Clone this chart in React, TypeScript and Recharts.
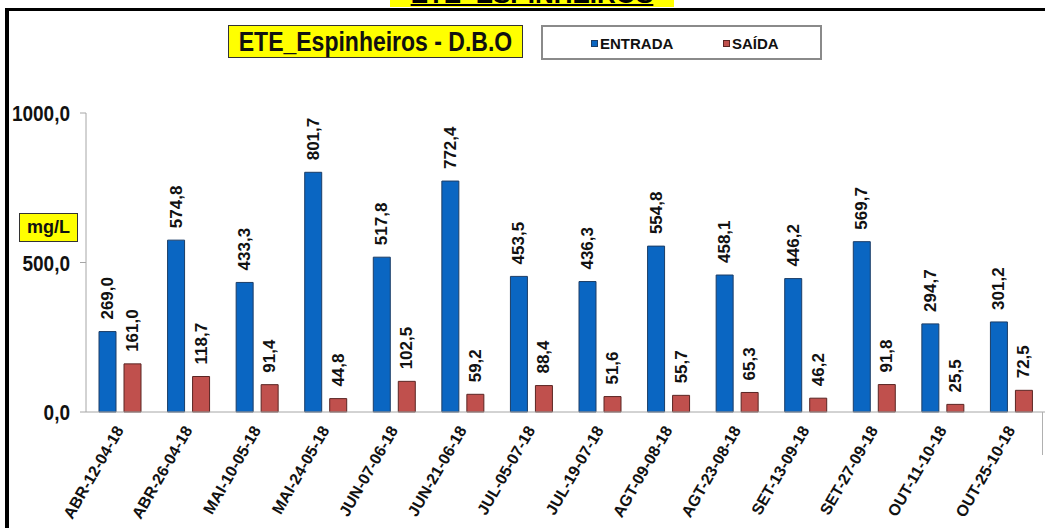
import React from "react";
import { BarChart, Bar, XAxis, YAxis, LabelList } from "recharts";

const categories = [
  "ABR-12-04-18", "ABR-26-04-18", "MAI-10-05-18", "MAI-24-05-18", "JUN-07-06-18",
  "JUN-21-06-18", "JUL-05-07-18", "JUL-19-07-18", "AGT-09-08-18", "AGT-23-08-18",
  "SET-13-09-18", "SET-27-09-18", "OUT-11-10-18", "OUT-25-10-18",
];
const entrada = [269.0, 574.8, 433.3, 801.7, 517.8, 772.4, 453.5, 436.3, 554.8, 458.1, 446.2, 569.7, 294.7, 301.2];
const saida = [161.0, 118.7, 91.4, 44.8, 102.5, 59.2, 88.4, 51.6, 55.7, 65.3, 46.2, 91.8, 25.5, 72.5];
const yTicks = [0, 500, 1000];

const data = categories.map((c, i) => ({ name: c, entrada: entrada[i], saida: saida[i] }));

const FONT = "'Liberation Sans', Arial, sans-serif";
const BLUE = "#0a66c2";
const RED = "#c0504d";

const fmt = (v: number) => v.toFixed(1).replace(".", ",");

const ValueLabel = (props: any) => {
  const { x, y, width, value } = props;
  const cx = Number(x) + Number(width) / 2;
  const ty = Number(y) - 12;
  return (
    <text
      x={cx}
      y={ty}
      transform={`rotate(-90 ${cx} ${ty})`}
      textAnchor="start"
      dominantBaseline="central"
      fontSize={17}
      fontWeight="bold"
      fontFamily={FONT}
      fill="#111"
    >
      {fmt(Number(value))}
    </text>
  );
};

const XTick = (props: any) => {
  const { x, y, payload } = props;
  return (
    <g transform={`translate(${x + 4},${y + 10})`}>
      <text
        x={0}
        y={0}
        textAnchor="end"
        transform="rotate(-60)"
        fontSize={16}
        fontWeight="bold"
        fontFamily={FONT}
        fill="#111"
      >
        {payload.value}
      </text>
    </g>
  );
};

const YTick = (props: any) => {
  const { x, y, payload } = props;
  return (
    <g transform={`translate(${x},${y})`}>
      <text
        x={0}
        y={0}
        textAnchor="end"
        dominantBaseline="central"
        transform="scale(1,1.2)"
        fontSize={19}
        fontWeight="bold"
        fontFamily={FONT}
        fill="#111"
      >
        {fmt(Number(payload.value))}
      </text>
    </g>
  );
};

export default function App() {
  return (
    <div
      style={{
        position: "fixed",
        left: 0,
        top: 0,
        width: 1045,
        height: 528,
        overflow: "hidden",
        background: "#fff",
        fontFamily: FONT,
      }}
    >
      {/* clipped top title */}
      <div
        style={{
          position: "absolute",
          left: 390,
          top: 0,
          width: 284,
          height: 7,
          background: "#ffff00",
          overflow: "hidden",
        }}
      >
        <span
          style={{
            position: "absolute",
            left: 0,
            right: 0,
            bottom: 0,
            textAlign: "center",
            fontSize: 26,
            lineHeight: 1,
            fontWeight: "bold",
            textDecoration: "underline",
            textDecorationThickness: 2,
            color: "#000",
            whiteSpace: "nowrap",
          }}
        >
          ETE_ESPINHEIROS
        </span>
      </div>
      {/* frame */}
      <div style={{ position: "absolute", left: 5, top: 8, width: 1045, height: 3, background: "#000" }} />
      <div style={{ position: "absolute", left: 5, top: 8, width: 4, height: 528, background: "#000" }} />

      <div style={{ position: "absolute", left: 0, top: 0 }}>
        <BarChart
          width={1046}
          height={528}
          data={data}
          margin={{ top: 113, right: 0, bottom: 0, left: 0 }}
          barCategoryGap={13}
          barGap={8}
        >
          <XAxis
            dataKey="name"
            height={116}
            interval={0}
            tickLine={false}
            axisLine={{ stroke: "#a6a6a6", strokeWidth: 1 }}
            tick={<XTick />}
          />
          <YAxis
            width={86}
            domain={[0, 1000]}
            ticks={yTicks}
            tickSize={6}
            tickMargin={10}
            axisLine={{ stroke: "#a6a6a6", strokeWidth: 1 }}
            tickLine={{ stroke: "#a6a6a6" }}
            tick={<YTick />}
          />
          <Bar dataKey="entrada" fill={BLUE} stroke="#1c3d66" strokeWidth={1} barSize={17} isAnimationActive={false}>
            <LabelList dataKey="entrada" content={<ValueLabel />} />
          </Bar>
          <Bar dataKey="saida" fill={RED} stroke="#5a2523" strokeWidth={1} barSize={17} isAnimationActive={false}>
            <LabelList dataKey="saida" content={<ValueLabel />} />
          </Bar>
        </BarChart>
      </div>

      {/* right plot border fragment */}
      <div style={{ position: "absolute", left: 1042, top: 412, width: 1, height: 43, background: "#b0b0b0" }} />

      {/* title box */}
      <div
        style={{
          position: "absolute",
          left: 228,
          top: 25,
          width: 295,
          height: 33,
          boxSizing: "border-box",
          background: "#ffff00",
          border: "1.5px solid #333",
          display: "flex",
          alignItems: "center",
          justifyContent: "center",
          fontSize: 23,
          fontWeight: "bold",
          color: "#111",
          whiteSpace: "nowrap",
        }}
      >
        <span style={{ display: "inline-block", transform: "scale(1,1.2)" }}>ETE_Espinheiros - D.B.O</span>
      </div>

      {/* legend box */}
      <div
        style={{
          position: "absolute",
          left: 541,
          top: 25,
          width: 281,
          height: 35,
          boxSizing: "border-box",
          background: "#fff",
          border: "2px solid #8a8a8a",
        }}
      >
        <div style={{ position: "absolute", left: 48, top: 13, width: 7, height: 7, background: BLUE, border: "1px solid #1c3d66", boxSizing: "border-box" }} />
        <div style={{ position: "absolute", left: 57, top: 8, fontSize: 15, lineHeight: "17px", fontWeight: "bold", color: "#111" }}>ENTRADA</div>
        <div style={{ position: "absolute", left: 180, top: 13, width: 7, height: 7, background: RED, border: "1px solid #5a2523", boxSizing: "border-box" }} />
        <div style={{ position: "absolute", left: 189, top: 8, fontSize: 15, lineHeight: "17px", fontWeight: "bold", color: "#111" }}>SAÍDA</div>
      </div>

      {/* mg/L box */}
      <div
        style={{
          position: "absolute",
          left: 19,
          top: 213,
          width: 59,
          height: 29,
          boxSizing: "border-box",
          background: "#ffff00",
          border: "1.5px solid #333",
          display: "flex",
          alignItems: "center",
          justifyContent: "center",
          fontSize: 18,
          fontWeight: "bold",
          color: "#111",
        }}
      >
        mg/L
      </div>
    </div>
  );
}
